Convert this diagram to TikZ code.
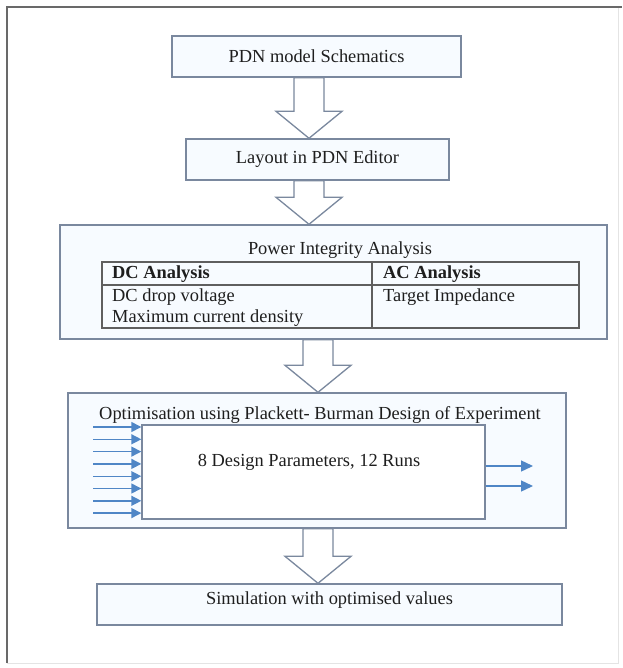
\documentclass[tikz,border=0pt]{standalone}
\usepackage{fontspec}
\setmainfont{Liberation Serif}
\usetikzlibrary{arrows.meta,calc}
\definecolor{boxline}{RGB}{122,136,158}
\definecolor{boxfill}{RGB}{247,251,255}
\definecolor{framedark}{RGB}{105,105,105}
\definecolor{framelight}{RGB}{228,228,228}
\definecolor{bluearr}{RGB}{79,134,198}
\definecolor{tabline}{RGB}{95,95,95}
\definecolor{txt}{RGB}{30,30,30}
\tikzset{
  stdfont/.style={font=\fontsize{18.4}{21}\selectfont, text=txt},
  flowbox/.style={draw=boxline, fill=boxfill, line width=1.4pt, inner sep=0pt, stdfont},
  lbl/.style={inner sep=0pt, stdfont},
  barrow/.style={draw=boxline, fill=white, line width=1.3pt, line join=miter},
  inarrow/.style={draw=bluearr, line width=1.4pt, -{Triangle[length=10pt,width=10pt]}},
  outarrow/.style={draw=bluearr, line width=1.4pt, -{Triangle[length=12pt,width=11pt]}},
}
\newcommand{\blockarr}[2]{%
  \path[barrow] let \p1=(#1), \p2=(#2) in
    (\x1-15pt,\y1) -- (\x1-15pt,\y2+27pt) -- (\x1-33pt,\y2+27pt) -- (\x1,\y2)
    -- (\x1+33pt,\y2+27pt) -- (\x1+15pt,\y2+27pt) -- (\x1+15pt,\y1) -- cycle;}
\begin{document}
\begin{tikzpicture}[x=1pt,y=-1pt]
\useasboundingbox (0,0) rectangle (622,668);
\fill[white] (0,0) rectangle (622,668);
% outer frame
\draw[framelight, line width=1pt] (618,7) -- (618,663) -- (7,663);
\draw[framedark, line width=2pt] (7,663) -- (7,7) -- (622,7);

% boxes
\node[flowbox, minimum width=289pt, minimum height=41pt] (b1) at (316.5,56.5) {PDN model Schematics};
\node[flowbox, minimum width=263pt, minimum height=41pt] (b2) at (317.5,159.5) {Layout in PDN Editor};
\node[flowbox, minimum width=547pt, minimum height=114pt] (b3) at (333.5,282) {};
\node[flowbox, minimum width=498pt, minimum height=135pt] (opt) at (317,460.5) {};
\node[draw=boxline, fill=white, line width=1.4pt, minimum width=343pt, minimum height=94pt] (inner) at (313.5,472) {};
\node[flowbox, minimum width=465pt, minimum height=41pt] (b4) at (329.5,604.5) {};

% texts
\node[lbl] (t3) at (340,250) {Power Integrity Analysis};
\node[lbl] (topt) at (320,415) {Optimisation using Plackett- Burman Design of Experiment};
\node[lbl] (tin) at (309,462) {8 Design Parameters, 12 Runs};
\node[lbl] (t4) at (329.5,600) {Simulation with optimised values};

% table
\draw[tabline, line width=1.3pt] (102,262) rectangle (579,328);
\draw[tabline, line width=1.3pt] (102,285) -- (579,285);
\draw[tabline, line width=1.3pt] (372,262) -- (372,328);
\node[lbl, anchor=west, font=\fontsize{18.4}{21}\selectfont\bfseries] (dch) at (112,274) {DC Analysis};
\node[lbl, anchor=west, font=\fontsize{18.4}{21}\selectfont\bfseries] (ach) at (383,274) {AC Analysis};
\node[lbl, anchor=west] (dc1) at (112,297) {DC drop voltage};
\node[lbl, anchor=west] (dc2) at (112,318) {Maximum current density};
\node[lbl, anchor=west] (ac1) at (383,297) {Target Impedance};

% block arrows
\coordinate (ax1) at (309,0);
\coordinate (ax3) at (318,0);
\blockarr{b1.south -| ax1}{b2.north -| ax1}
\blockarr{b2.south -| ax1}{b3.north -| ax1}
\blockarr{b3.south -| ax3}{opt.north -| ax3}
\blockarr{opt.south -| ax3}{b4.north -| ax3}

% input arrows
\foreach \i in {0,...,7}{
  \coordinate (in\i) at (93,{427+\i*12.3});
  \draw[inarrow] (in\i) -- (in\i -| inner.west);
}
% output arrows
\coordinate (out1) at (533,466);
\coordinate (out2) at (533,486);
\draw[outarrow] (out1 -| inner.east) -- (out1);
\draw[outarrow] (out2 -| inner.east) -- (out2);
\end{tikzpicture}
\end{document}
